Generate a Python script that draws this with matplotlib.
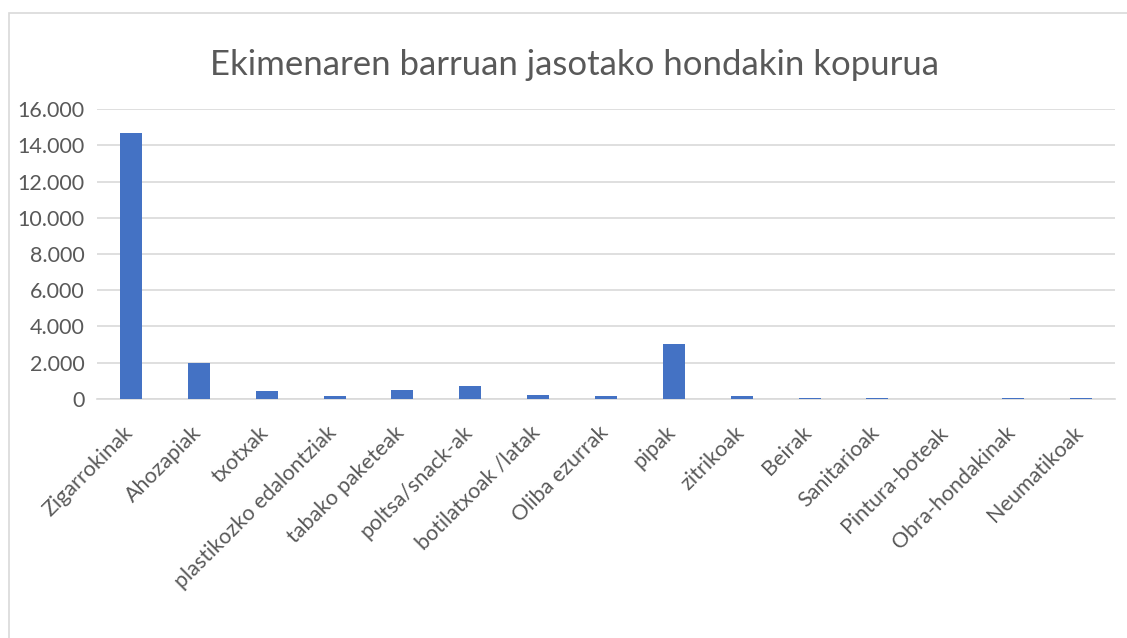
import matplotlib.pyplot as plt
from matplotlib.ticker import FuncFormatter
from matplotlib.transforms import ScaledTranslation

# datuak
kategoriak = ['Zigarrokinak', 'Ahozapiak', 'txotxak', 'plastikozko edalontziak',
              'tabako paketeak', 'poltsa/snack-ak', 'botilatxoak /latak',
              'Oliba ezurrak', 'pipak', 'zitrikoak', 'Beirak', 'Sanitarioak',
              'Pintura-boteak', 'Obra-hondakinak', 'Neumatikoak']
balioak = [14700, 1950, 430, 150, 480, 700, 210, 150, 3030, 150, 40, 40, 0, 40, 40]
y_tickak = [0, 2000, 4000, 6000, 8000, 10000, 12000, 14000, 16000]

plt.rcParams['font.family'] = ['Lato', 'DejaVu Sans']
testu_kolorea = '#595959'

fig = plt.figure(figsize=(11.27, 6.38), dpi=100)

# grafikoaren ertza
fig.patches.append(plt.Rectangle((9 / 1127, -0.01), 1.1, 1 - 13 / 638 + 0.01,
                                 transform=fig.transFigure, fill=False,
                                 edgecolor='#D9D9D9', linewidth=1.2))

ax = fig.add_axes([97 / 1127, 1 - 398.7 / 638, (1115 - 97) / 1127, (398.7 - 109.3) / 638])

x = range(len(kategoriak))
ax.bar(x, balioak, width=0.325, color='#4472C4', zorder=3)

ax.set_xlim(-0.5, len(kategoriak) - 0.5)
ax.set_ylim(0, 16000)
ax.set_yticks(y_tickak)
ax.yaxis.set_major_formatter(FuncFormatter(lambda v, p: f'{int(v):,}'.replace(',', '.')))
ax.grid(axis='y', color='#D9D9D9', linewidth=1.2, zorder=0)

for s in ['top', 'right', 'left']:
    ax.spines[s].set_visible(False)
ax.spines['bottom'].set_color('#D9D9D9')
ax.spines['bottom'].set_linewidth(1.2)

ax.tick_params(axis='y', length=0, pad=9, labelsize=15.5, labelcolor=testu_kolorea)
ax.tick_params(axis='x', length=0, pad=14, labelsize=15.5, labelcolor=testu_kolorea)
ax.set_xticks(list(x))
ax.set_xticklabels(kategoriak, rotation=45, ha='right', rotation_mode='anchor')

# etiketak pixka bat ezkerrera eta behera
mugitu = ScaledTranslation(-8 / 100, -4 / 100, fig.dpi_scale_trans)
for lab in ax.get_xticklabels():
    lab.set_transform(lab.get_transform() + mugitu)

fig.text(574 / 1127, 1 - 65 / 638, 'Ekimenaren barruan jasotako hondakin kopurua',
         ha='center', va='center', fontsize=25, color=testu_kolorea)

fig.savefig('out.png', dpi=100)
